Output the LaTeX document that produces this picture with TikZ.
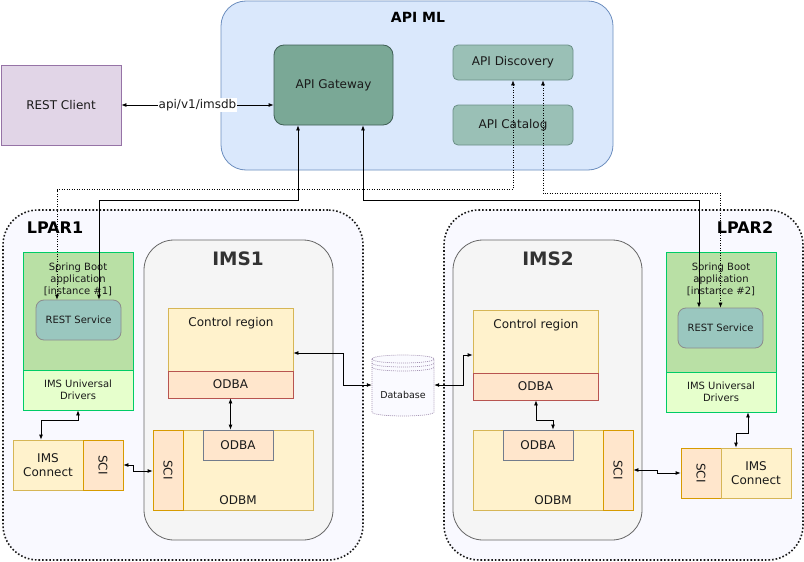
\documentclass[tikz,border=0pt]{standalone}
\usepackage{fontspec}
\setmainfont{DejaVu Sans}
\usetikzlibrary{arrows.meta}
\definecolor{apimlfill}{HTML}{DAE8FC}
\definecolor{apimlline}{HTML}{6C8EBF}
\definecolor{gwfill}{HTML}{7AA896}
\definecolor{gwline}{HTML}{3F5F55}
\definecolor{discfill}{HTML}{9AC0B6}
\definecolor{discline}{HTML}{6A8F86}
\definecolor{restfill}{HTML}{9AC7BF}
\definecolor{restline}{HTML}{8C8C8C}
\definecolor{clientfill}{HTML}{E1D5E7}
\definecolor{clientline}{HTML}{9673A6}
\definecolor{lparfill}{HTML}{F9F9FF}
\definecolor{lparline}{HTML}{1A1A1A}
\definecolor{imsfill}{HTML}{F5F5F5}
\definecolor{imsline}{HTML}{666666}
\definecolor{sbfill}{HTML}{B9E0A5}
\definecolor{sbline}{HTML}{00CC66}
\definecolor{udfill}{HTML}{E6FFCC}
\definecolor{yfill}{HTML}{FFF2CC}
\definecolor{yline}{HTML}{D6B656}
\definecolor{ofill}{HTML}{FFE6CC}
\definecolor{oline}{HTML}{B85450}
\definecolor{sciline}{HTML}{D79B00}
\definecolor{innerline}{HTML}{737C8C}
\definecolor{dbline}{HTML}{A594B4}
\definecolor{dbfill}{HTML}{FAFAFF}
\definecolor{txt}{HTML}{1A1A1A}
\definecolor{imstxt}{HTML}{333333}
\begin{document}
\begin{tikzpicture}[x=1pt,y=-1pt,
  box/.style={draw, rectangle, inner sep=0pt, align=center, text=txt,
    font=\fontsize{12}{14.5}\selectfont, line width=0.8pt},
  lpar/.style={box, fill=lparfill, draw=lparline, line width=1.6pt, dotted, rounded corners=35pt},
  ims/.style={box, fill=imsfill, draw=imsline, rounded corners=30pt},
  sbbox/.style={box, fill=sbfill, draw=sbline},
  udbox/.style={box, fill=udfill, draw=sbline, font=\fontsize{10}{12}\selectfont},
  restbox/.style={box, fill=restfill, draw=restline, rounded corners=8pt, font=\fontsize{10}{12}\selectfont},
  ybox/.style={box, fill=yfill, draw=yline},
  odbabox/.style={box, fill=ofill, draw=oline},
  scibox/.style={box, fill=ofill, draw=sciline},
  innerbox/.style={box, fill=ofill, draw=innerline},
  lbl/.style={inner sep=0pt, align=center, text=txt, font=\fontsize{12}{14.5}\selectfont},
  smalllbl/.style={lbl, font=\fontsize{10}{12}\selectfont},
  arr/.style={{Latex[length=5pt,width=4pt]}-{Latex[length=5pt,width=4pt]}, line width=0.8pt, black},
  dotarr/.style={arr, line width=0.6pt, dash pattern=on 1pt off 1.5pt}
]
\useasboundingbox (0,0) rectangle (804,562);
\fill[white] (0,0) rectangle (804,562);

% LPARs
\node[lpar, minimum width=360pt, minimum height=350pt] (lpar1) at (183,385) {};
\node[lpar, minimum width=359pt, minimum height=350pt] (lpar2) at (623.5,385) {};
\node[lbl, font=\fontsize{16}{18}\bfseries, text=black] (lpar1t) at (55,228) {LPAR1};
\node[lbl, font=\fontsize{16}{18}\bfseries, text=black] (lpar2t) at (745,228) {LPAR2};

% IMS regions
\node[ims, minimum width=189pt, minimum height=300pt] (ims1) at (238.5,390) {};
\node[ims, minimum width=189pt, minimum height=300pt] (ims2) at (547.5,390) {};
\node[lbl, font=\fontsize{18.5}{20}\bfseries, text=imstxt] (ims1t) at (238,259) {IMS1};
\node[lbl, font=\fontsize{18.5}{20}\bfseries, text=imstxt] (ims2t) at (548,259) {IMS2};

% API ML
\node[box, fill=apimlfill, draw=apimlline, rounded corners=25pt, minimum width=392pt, minimum height=169pt] (apiml) at (417,85.5) {};
\node[lbl, font=\fontsize{14}{16}\bfseries, text=black] (apimlt) at (418,17) {API ML};
\node[box, fill=gwfill, draw=gwline, rounded corners=10pt, minimum width=119pt, minimum height=80pt] (gateway) at (333.5,85) {API Gateway};
\node[box, fill=discfill, draw=discline, rounded corners=5pt, minimum width=120pt, minimum height=35pt] (discovery) at (513,62.5) {API Discovery};
\node[box, fill=discfill, draw=discline, rounded corners=5pt, minimum width=120pt, minimum height=40pt] (catalog) at (513,125) {API Catalog};

% REST client
\node[box, fill=clientfill, draw=clientline, minimum width=120pt, minimum height=80pt] (client) at (61,105) {REST Client};

% LPAR1 contents
\node[sbbox, minimum width=110pt, minimum height=118pt] (spring1) at (78,311) {};
\node[smalllbl] (spring1t) at (78,279) {Spring Boot\\application\\{[}instance \#1{]}};
\node[restbox, minimum width=85pt, minimum height=40pt] (rest1) at (78.5,320) {REST Service};
\node[udbox, minimum width=110pt, minimum height=40pt] (drivers1) at (78,390) {IMS Universal\\Drivers};
\node[ybox, minimum width=70pt, minimum height=50pt] (conn1) at (48,465) {IMS\\Connect};
\node[scibox, minimum width=40pt, minimum height=50pt] (sci1) at (103,465) {\rotatebox{-90}{SCI}};

\node[ybox, minimum width=125pt, minimum height=63pt] (ctrl1) at (230.5,339.5) {};
\node[lbl] (ctrl1t) at (231,323) {Control region};
\node[odbabox, minimum width=125pt, minimum height=27pt] (odba1) at (230.5,384.5) {ODBA};
\node[ybox, minimum width=160pt, minimum height=80pt] (odbm1) at (233,470) {};
\node[lbl] (odbm1t) at (238,500) {ODBM};
\node[scibox, minimum width=30pt, minimum height=80pt] (sciodbm1) at (168,470) {\rotatebox{-90}{SCI}};
\node[innerbox, minimum width=70pt, minimum height=30pt] (odbai1) at (238,445) {ODBA};

% LPAR2 contents
\node[sbbox, minimum width=110pt, minimum height=120pt] (spring2) at (721,312) {};
\node[smalllbl] (spring2t) at (721,279) {Spring Boot\\application\\{[}instance \#2{]}};
\node[restbox, minimum width=85pt, minimum height=40pt] (rest2) at (720.5,328) {REST Service};
\node[udbox, minimum width=110pt, minimum height=40pt] (drivers2) at (721,392) {IMS Universal\\Drivers};
\node[scibox, minimum width=40pt, minimum height=50pt] (sci2) at (701,473) {\rotatebox{-90}{SCI}};
\node[ybox, minimum width=70pt, minimum height=50pt] (conn2) at (756,473) {IMS\\Connect};

\node[ybox, minimum width=125pt, minimum height=63pt] (ctrl2) at (535.5,341.5) {};
\node[lbl] (ctrl2t) at (536,325) {Control region};
\node[odbabox, minimum width=125pt, minimum height=27pt] (odba2) at (535.5,386.5) {ODBA};
\node[ybox, minimum width=160pt, minimum height=80pt] (odbm2) at (553,470) {};
\node[lbl] (odbm2t) at (553,500) {ODBM};
\node[scibox, minimum width=30pt, minimum height=80pt] (sciodbm2) at (618,470) {\rotatebox{-90}{SCI}};
\node[innerbox, minimum width=70pt, minimum height=30pt] (odbai2) at (538,445) {ODBA};

% Database
\node[inner sep=0pt, minimum width=62pt, minimum height=60pt] (db) at (403,385) {};
\begin{scope}[draw=dbline, line width=0.7pt, dash pattern=on 1pt off 1pt]
\filldraw[fill=dbfill] (372,359) -- (372,412) .. controls (372,417.3) and (434,417.3) .. (434,412) -- (434,359)
   .. controls (434,353.7) and (372,353.7) .. (372,359) -- cycle;
\draw (372,359) .. controls (372,364.3) and (434,364.3) .. (434,359);
\draw (372,363) .. controls (372,368.3) and (434,368.3) .. (434,363);
\draw (372,367) .. controls (372,372.3) and (434,372.3) .. (434,367);
\end{scope}
\node[smalllbl, font=\fontsize{9.5}{11}\selectfont] (dbt) at (403,395) {Database};

% Connectors
\draw[arr] (client.east) -- (client.east -| gateway.west)
  node[midway, fill=white, inner sep=1pt, font=\fontsize{12}{14}\selectfont, text=txt] (apilbl) {api/v1/imsdb};
\draw[arr] ([xshift=-35.5pt]gateway.south) -- ++(0,75) -| ([xshift=20.5pt]rest1.north);
\draw[arr] ([xshift=29.5pt]gateway.south) -- ++(0,75) -| ([xshift=-21.5pt]rest2.north);
\draw[dotarr] ([xshift=-21.5pt]rest1.north) -- ++(0,-110) -| (discovery.south);
\draw[dotarr] ([xshift=30pt]discovery.south) -- ++(0,113) -| (rest2.north);

\draw[arr] ([yshift=-13.5pt]ctrl1.east) -- ++(50,0) |- (db.west);
\draw[arr] (db.east) -- ++(29,0) |- ([yshift=-13.5pt]ctrl2.west);
\draw[arr] (odba1.south) -- (odba1.south |- odbai1.north);
\draw[arr] ([xshift=0.5pt]odba2.south) -- ++(0,20) -| ([xshift=15pt]odbai2.north);
\draw[arr] (drivers1.south) -- ++(0,10) -| ([xshift=-7pt]conn1.north);
\draw[arr] (sci1.east) -- ++(10,0) |- ([yshift=-1pt]sciodbm1.west);
\draw[arr] (sciodbm2.east) -- ++(24,0) |- (sci2.west);
\draw[arr] ([xshift=27pt]drivers2.south) -- ++(0,21) -| ([xshift=-20pt]conn2.north);
\end{tikzpicture}
\end{document}
